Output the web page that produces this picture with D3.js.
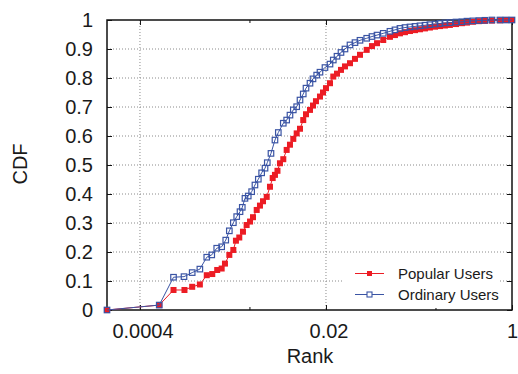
<!DOCTYPE html>
<html><head><meta charset="utf-8">
<script src="https://cdn.jsdelivr.net/npm/d3@7"></script>
<style>
body{margin:0;background:#fff;}
svg text{font-family:"Liberation Sans",Arial,Helvetica,sans-serif;fill:#1a1a1a;}
</style></head>
<body><svg id="c" width="518" height="374"></svg>
<script>
const popularRank = [0.0002,0.0006,0.00081,0.00102,0.0012,0.00141,0.00163,0.00183,0.00203,0.00223,0.00239,0.00262,0.00285,0.00301,0.00323,0.00349,0.00377,0.00405,0.00431,0.00466,0.00499,0.00532,0.00575,0.00616,0.00652,0.00684,0.00721,0.0076,0.00815,0.00875,0.00938,0.01006,0.0108,0.01158,0.0124,0.01314,0.01429,0.01522,0.0162,0.01763,0.01878,0.02,0.02176,0.02332,0.02522,0.02742,0.02982,0.03314,0.0368,0.0409,0.0471,0.0526,0.0585,0.0667,0.0768,0.0853,0.0948,0.1053,0.117,0.13,0.1444,0.1604,0.178,0.198,0.22,0.244,0.271,0.308,0.349,0.388,0.44,0.499,0.566,0.656,0.776,0.881,1.0];
const popularCDF = [0,0.017,0.069,0.069,0.080,0.088,0.12,0.124,0.138,0.143,0.16,0.19,0.207,0.239,0.25,0.27,0.293,0.305,0.32,0.345,0.36,0.375,0.39,0.425,0.455,0.466,0.48,0.506,0.52,0.552,0.57,0.59,0.609,0.625,0.655,0.675,0.69,0.705,0.72,0.736,0.75,0.765,0.782,0.805,0.815,0.828,0.84,0.851,0.866,0.88,0.897,0.91,0.92,0.931,0.942,0.948,0.954,0.958,0.962,0.965,0.968,0.971,0.974,0.977,0.979,0.981,0.983,0.986,0.989,0.991,0.994,0.996,0.997,0.998,0.999,1.0,1.0];
const ordinaryRank = [0.0002,0.0006,0.00081,0.00101,0.0012,0.00141,0.00163,0.00181,0.00201,0.00223,0.00243,0.00262,0.00285,0.00306,0.00328,0.00344,0.00364,0.0039,0.00419,0.00449,0.00482,0.00517,0.00555,0.00582,0.00629,0.00684,0.00734,0.00815,0.00875,0.00938,0.01006,0.0108,0.01158,0.0124,0.01314,0.01429,0.01522,0.01645,0.01763,0.01958,0.02176,0.02332,0.02522,0.02742,0.02982,0.03314,0.0368,0.0409,0.0471,0.0526,0.0585,0.0667,0.0768,0.0853,0.0948,0.1053,0.117,0.13,0.1444,0.1604,0.178,0.198,0.22,0.244,0.271,0.308,0.349,0.388,0.44,0.499,0.566,0.656,0.776,0.881,1.0];
const ordinaryCDF = [0,0.017,0.113,0.115,0.129,0.141,0.182,0.19,0.213,0.218,0.241,0.273,0.301,0.322,0.339,0.354,0.385,0.393,0.408,0.431,0.451,0.473,0.489,0.508,0.54,0.586,0.612,0.644,0.655,0.672,0.69,0.701,0.724,0.745,0.765,0.782,0.797,0.81,0.82,0.836,0.848,0.862,0.875,0.888,0.9,0.914,0.922,0.93,0.937,0.943,0.948,0.954,0.961,0.966,0.971,0.974,0.976,0.978,0.98,0.982,0.984,0.986,0.988,0.99,0.991,0.993,0.994,0.996,0.997,0.998,0.999,1.0,1.0,1.0,1.0];
const xTicks = [0.0004,0.02,1];
const xTickLabels = ["0.0004","0.02","1"];
const xMinorTicks = [0.004,0.2];
const yTicks = [0,0.1,0.2,0.3,0.4,0.5,0.6,0.7,0.8,0.9,1];
const seriesNames = ["Popular Users","Ordinary Users"];

const L=107,R=512,T=20,B=310;
const svg=d3.select("#c");
const x=d3.scaleLog().domain([0.0002,1]).range([L,R]);
const y=d3.scaleLinear().domain([0,1]).range([B,T]);

// grid
const g=svg.append("g");
g.selectAll("line.gy").data(yTicks.filter(v=>v>0&&v<1)).join("line")
 .attr("x1",L).attr("x2",R).attr("y1",d=>y(d)).attr("y2",d=>y(d))
 .attr("stroke","#8a8a8a").attr("stroke-width",1).attr("stroke-dasharray","1,2");
g.selectAll("line.gx").data(xTicks.filter(v=>v<1)).join("line")
 .attr("y1",T).attr("y2",B).attr("x1",d=>x(d)).attr("x2",d=>x(d))
 .attr("stroke","#8a8a8a").attr("stroke-width",1).attr("stroke-dasharray","1,2");

// axes
const ax=svg.append("g").attr("transform",`translate(${L},0)`)
 .call(d3.axisLeft(y).tickValues(yTicks).tickFormat(d3.format("~g")).tickSize(-5).tickPadding(14));
const axR=svg.append("g").attr("transform",`translate(${R},0)`)
 .call(d3.axisRight(y).tickValues(yTicks).tickFormat("").tickSize(-5));
const axB=svg.append("g").attr("transform",`translate(0,${B})`)
 .call(d3.axisBottom(x).tickValues(xTicks).tickFormat((d,i)=>xTickLabels[i]).tickSize(-5).tickPadding(14));
const axT=svg.append("g").attr("transform",`translate(0,${T})`)
 .call(d3.axisTop(x).tickValues(xTicks).tickFormat("").tickSize(-5));
const axBm=svg.append("g").attr("transform",`translate(0,${B})`)
 .call(d3.axisBottom(x).tickValues(xMinorTicks).tickFormat("").tickSize(-3));
const axTm=svg.append("g").attr("transform",`translate(0,${T})`)
 .call(d3.axisTop(x).tickValues(xMinorTicks).tickFormat("").tickSize(-3));
[ax,axR,axB,axT,axBm,axTm].forEach(a=>{a.select(".domain").remove();a.selectAll("line").attr("stroke","#111");});
ax.selectAll("text").attr("font-size",20).attr("fill","#1a1a1a");
axB.selectAll("text").attr("font-size",20).attr("dx",(d,i)=>i===xTicks.length-1?0:2.5).attr("fill","#1a1a1a");

// frame
svg.append("rect").attr("x",L).attr("y",T).attr("width",R-L).attr("height",B-T)
 .attr("fill","none").attr("stroke","#111").attr("stroke-width",1.5);

// labels
svg.append("text").attr("x",310).attr("y",363).attr("text-anchor","middle").attr("font-size",20).text("Rank");
svg.append("text").attr("transform","translate(26.5,164) rotate(-90)").attr("text-anchor","middle").attr("font-size",20).text("CDF");

const red="#ec1c24", blue="#3a54a4";
const line=d3.line().x(d=>x(d[0])).y(d=>y(d[1]));
const popular=popularRank.map((r,i)=>[r,popularCDF[i]]);
const ordinary=ordinaryRank.map((r,i)=>[r,ordinaryCDF[i]]);

svg.append("path").datum(popular).attr("d",line).attr("fill","none").attr("stroke",red).attr("stroke-width",1);
svg.append("g").selectAll("rect").data(popular).join("rect")
 .attr("x",d=>x(d[0])-3).attr("y",d=>y(d[1])-3).attr("width",6).attr("height",6).attr("fill",red);

svg.append("path").datum(ordinary).attr("d",line).attr("fill","none").attr("stroke",blue).attr("stroke-width",1);
svg.append("g").selectAll("rect").data(ordinary).join("rect")
 .attr("x",d=>x(d[0])-2.75).attr("y",d=>y(d[1])-2.75).attr("width",5.5).attr("height",5.5)
 .attr("fill","none").attr("stroke",blue).attr("stroke-width",1.2);

// legend
svg.append("rect").attr("x",343).attr("y",259).attr("width",157).attr("height",49).attr("fill","#fff");
const leg=[{name:seriesNames[0],c:red,fill:true,y:273.5},{name:seriesNames[1],c:blue,fill:false,y:294.5}];
leg.forEach(l=>{
  svg.append("line").attr("x1",355).attr("x2",384).attr("y1",l.y).attr("y2",l.y).attr("stroke",l.c).attr("stroke-width",1);
  svg.append("rect").attr("x",369.5-2.5).attr("y",l.y-2.5).attr("width",5).attr("height",5)
   .attr("fill",l.fill?l.c:"#fff").attr("stroke",l.c).attr("stroke-width",l.fill?0:1.1);
  svg.append("text").attr("x",398).attr("y",l.y+5.5).attr("font-size",15).text(l.name);
});
</script></body></html>
